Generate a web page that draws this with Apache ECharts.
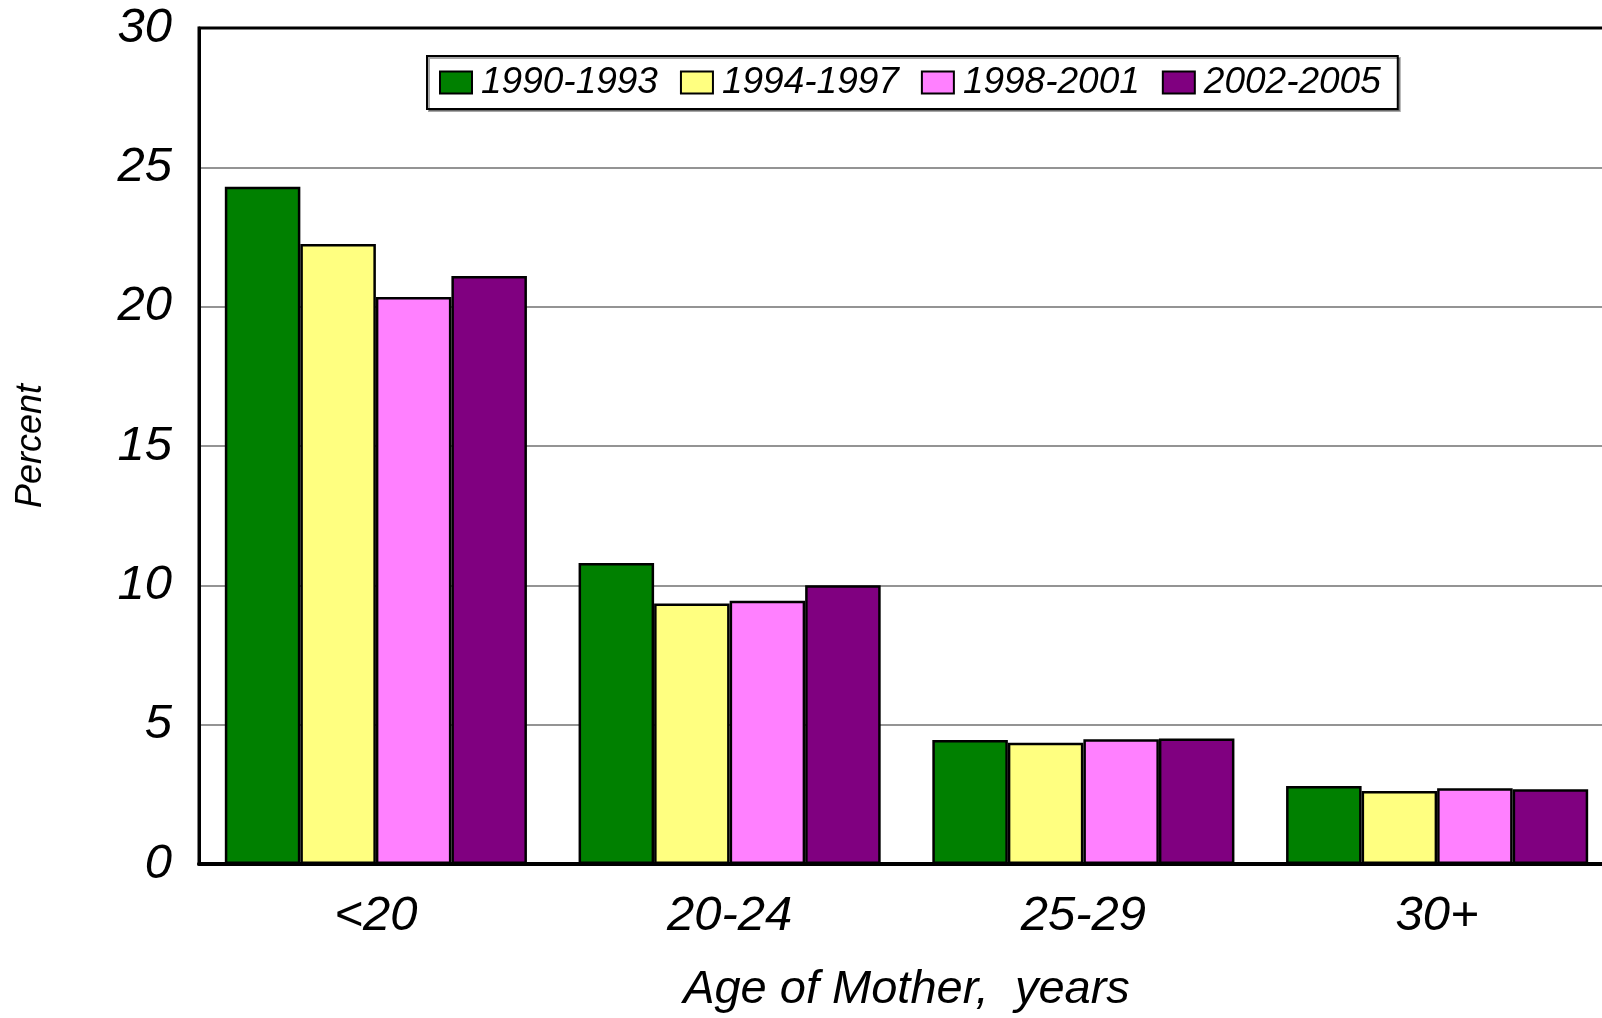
<!DOCTYPE html>
<html>
<head>
<meta charset="utf-8">
<script src="https://cdn.jsdelivr.net/npm/echarts@6/dist/echarts.min.js"></script>
<style>
  html, body { margin: 0; padding: 0; background: #fff; overflow: hidden; }
  /* the plot runs a little past the right edge, as in the original */
  #chart { width: 1614px; height: 1018px; }
</style>
</head>
<body>
<div id="chart"></div>
<script>
// age groups on the x axis
const ages = ['<20', '20-24', '25-29', '30+'];
// one list per period (percent)
const p1990 = [24.3, 10.8, 4.45, 2.8];
const p1994 = [22.25, 9.35, 4.35, 2.62];
const p1998 = [20.35, 9.45, 4.48, 2.72];
const p2002 = [21.1, 10.0, 4.5, 2.68];
const periods = ['1990-1993', '1994-1997', '1998-2001', '2002-2005'];
const colors = ['#008000', '#FFFF80', '#FF80FF', '#800080'];

const font = "'Liberation Sans', Arial, sans-serif";
const chart = echarts.init(document.getElementById('chart'));

function bar(name, data, i) {
    return {
        name: name,
        type: 'bar',
        data: data,
        barGap: 0,
        barCategoryGap: '14.6%',
        itemStyle: { color: colors[i], borderColor: '#000', borderWidth: 2.5 }
    };
}

chart.setOption({
    animation: false,
    backgroundColor: '#fff',
    grid: {
        left: 199, top: 28, right: 0, height: 839,
        show: true, borderColor: '#000', borderWidth: 3
    },
    legend: {
        left: 427, top: 56,
        orient: 'horizontal',
        itemWidth: 32, itemHeight: 22, itemGap: 22,
        padding: [8, 17, 8, 12],
        borderColor: '#000', borderWidth: 2,
        backgroundColor: '#fff',
        shadowColor: 'rgba(0,0,0,0.35)', shadowOffsetX: 2, shadowOffsetY: 2, shadowBlur: 0,
        icon: 'rect',
        data: periods,
        textStyle: {
            fontFamily: font,
            fontStyle: 'italic', fontSize: 37, color: '#000',
            padding: [0, 0, 0, 4]
        }
    },
    xAxis: {
        type: 'category',
        data: ages,
        name: 'Age of Mother,  years',
        nameLocation: 'middle',
        nameGap: 102,
        nameTextStyle: { fontFamily: font, fontStyle: 'italic', fontSize: 47, color: '#000' },
        axisLine: { lineStyle: { color: '#000', width: 4 } },
        axisTick: { show: false },
        axisLabel: { margin: 28, fontFamily: font, fontStyle: 'italic', fontSize: 49, color: '#000' }
    },
    yAxis: {
        type: 'value',
        min: 0, max: 30, interval: 5,
        name: 'Percent',
        nameLocation: 'middle',
        nameGap: 150,
        nameTextStyle: { fontFamily: font, fontStyle: 'italic', fontSize: 36, color: '#000' },
        axisLine: { show: true, lineStyle: { color: '#000', width: 3 } },
        axisTick: { show: false },
        axisLabel: { margin: 27, fontFamily: font, fontStyle: 'italic', fontSize: 49, color: '#000' },
        splitLine: {
            show: true, showMinLine: false, showMaxLine: false,
            lineStyle: { color: '#707070', width: 1.5 }
        }
    },
    series: [
        bar(periods[0], p1990, 0),
        bar(periods[1], p1994, 1),
        bar(periods[2], p1998, 2),
        bar(periods[3], p2002, 3)
    ]
});
</script>
</body>
</html>
